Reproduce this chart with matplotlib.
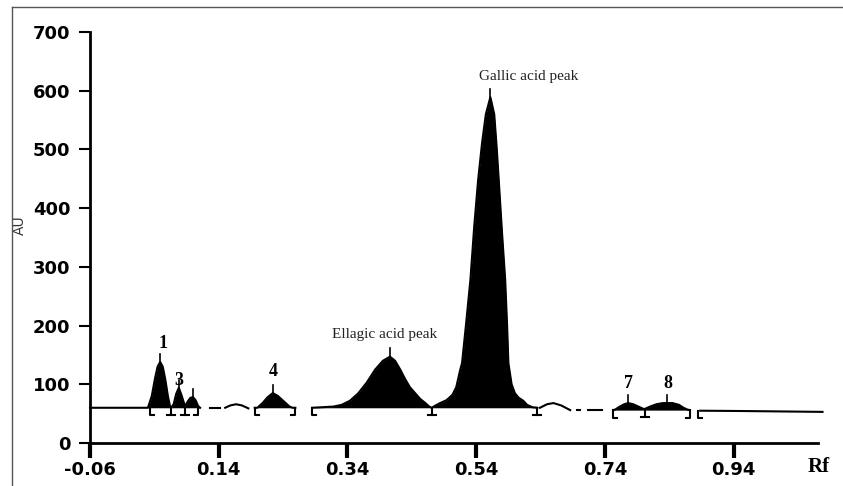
import matplotlib
matplotlib.use('Agg')
from matplotlib import pyplot as plt
from matplotlib.lines import Line2D

# densitogram profile, split in the segments the scanner printed (Rf, AU)
seg1_rf = [-0.06, 0.030, 0.036, 0.041, 0.045, 0.049, 0.053, 0.057, 0.061, 0.064, 0.066,
           0.070, 0.074, 0.078, 0.082, 0.086, 0.088, 0.092, 0.096, 0.100, 0.104, 0.108, 0.111]
seg1_au = [60, 60, 80, 110, 130, 138, 130, 108, 80, 64, 60,
           66, 84, 94, 82, 68, 63, 71, 77, 78, 73, 63, 60]

dash1_rf = [0.126, 0.142]
dash1_au = [60, 60]
arc1_rf = [0.150, 0.158, 0.167, 0.176, 0.186]
arc1_au = [60, 64, 66, 64, 59]

seg4_rf = [0.196, 0.200, 0.208, 0.216, 0.224, 0.232, 0.242, 0.250, 0.255, 0.259]
seg4_au = [60, 60, 68, 78, 85, 80, 70, 62, 60, 60]

main_rf = [0.285, 0.318, 0.331, 0.344, 0.357, 0.370, 0.383, 0.395, 0.406, 0.414, 0.422,
           0.430, 0.437, 0.445, 0.453, 0.461, 0.467, 0.471, 0.477, 0.484, 0.494, 0.503,
           0.509, 0.515, 0.518, 0.524, 0.531, 0.537, 0.543, 0.549, 0.555, 0.562, 0.568,
           0.572, 0.575, 0.580, 0.585, 0.588, 0.590, 0.595, 0.600, 0.606, 0.613, 0.619,
           0.627, 0.635]
main_au = [60, 62, 65, 72, 85, 103, 125, 140, 147, 140, 125,
           108, 95, 85, 75, 68, 62, 60, 64, 68, 73, 82,
           95, 124, 136, 200, 278, 370, 448, 510, 560, 589, 560,
           500, 448, 360, 278, 200, 136, 100, 85, 77, 72, 65,
           61, 60]

arc2_rf = [0.639, 0.650, 0.660, 0.672, 0.686]
arc2_au = [60, 66, 68, 64, 56]
dots_rf = [0.697, 0.701]
dots_au = [56, 56]
dash2_rf = [0.714, 0.736]
dash2_au = [56, 56]

seg78_rf = [0.753, 0.756, 0.763, 0.770, 0.776, 0.784, 0.792, 0.800, 0.802, 0.810,
            0.820, 0.830, 0.837, 0.845, 0.855, 0.862, 0.868, 0.872]
seg78_au = [56, 57, 62, 66, 68, 66, 62, 58, 58, 62,
            66, 68, 68, 68, 65, 60, 57, 56]

tail_rf = [0.888, 0.950, 1.078]
tail_au = [55, 54.5, 53]

# integration marks below the baseline
open_rf = [0.033, 0.196, 0.285, 0.753, 0.885]
open_au = [60, 60, 60, 56, 55]
sep_rf = [0.066, 0.088, 0.471, 0.635, 0.802]
sep_au = [60, 60, 60, 60, 58]
close_rf = [0.108, 0.259, 0.872]
close_au = [60, 60, 56]

# peak apex ticks
apex_rf = [0.049, 0.078, 0.100, 0.224, 0.406, 0.562, 0.776, 0.837]
apex_au = [138, 94, 78, 85, 147, 589, 68, 68]

peak_labels = ['1', '3', '4', '7', '8']
label_rf = [0.053, 0.078, 0.224, 0.776, 0.837]
label_au = [170, 107, 121, 102, 102]

xticks = [-0.06, 0.14, 0.34, 0.54, 0.74, 0.94]
yticks = [0, 100, 200, 300, 400, 500, 600, 700]

fig = plt.figure(figsize=(8.43, 4.86), dpi=100)
ax = fig.add_axes([90 / 843, 43 / 486, 728 / 843, 411 / 486])

# solid segments with filled peaks
for rf, au in [(seg1_rf, seg1_au), (seg4_rf, seg4_au), (main_rf, main_au), (seg78_rf, seg78_au)]:
    base = min(au[0], au[-1])
    ax.fill_between(rf, au, base, color='black', linewidth=0)
    ax.plot(rf, au, color='black', linewidth=1.5, clip_on=False)

for rf, au in [(dash1_rf, dash1_au), (arc1_rf, arc1_au), (arc2_rf, arc2_au),
               (dots_rf, dots_au), (dash2_rf, dash2_au), (tail_rf, tail_au)]:
    ax.plot(rf, au, color='black', linewidth=1.5, clip_on=False)

# brackets
d = 13
w = 0.006
for x, y in zip(open_rf, open_au):
    ax.plot([x + w, x, x], [y - d, y - d, y], color='black', linewidth=1.5)
for x, y in zip(close_rf, close_au):
    ax.plot([x - w, x, x], [y - d, y - d, y], color='black', linewidth=1.5)
for x, y in zip(sep_rf, sep_au):
    ax.plot([x, x], [y, y - d], color='black', linewidth=1.5)
    ax.plot([x - w, x + w], [y - d, y - d], color='black', linewidth=1.5)

for x, y in zip(apex_rf, apex_au):
    ax.plot([x, x], [y, y + 14], color='black', linewidth=1.2)

for t, x, y in zip(peak_labels, label_rf, label_au):
    ax.text(x, y, t, ha='center', va='center', fontsize=13, fontweight='bold',
            family='Liberation Serif')

ax.text(0.398, 184, 'Ellagic acid peak', ha='center', va='center', fontsize=11,
        family='Liberation Serif', color='#222222')
ax.text(0.621, 625, 'Gallic acid peak', ha='center', va='center', fontsize=11,
        family='Liberation Serif', color='#222222')

ax.set_xlim(-0.06, 1.071)
ax.set_ylim(0, 700)
ax.set_xticks(xticks)
ax.set_xticklabels(['-0.06', '0.14', '0.34', '0.54', '0.74', '0.94'])
ax.set_yticks(yticks)
for s in ['top', 'right']:
    ax.spines[s].set_visible(False)
ax.spines['left'].set_linewidth(2)
ax.spines['bottom'].set_linewidth(2)
ax.tick_params(axis='y', direction='out', length=8, width=1.5, pad=6)
ax.tick_params(axis='x', direction='out', length=11, width=3, pad=2)
for lab in ax.get_xticklabels() + ax.get_yticklabels():
    lab.set_fontsize(13)
    lab.set_fontweight('bold')

fig.text(819 / 843, 1 - 467 / 486, 'Rf', ha='center', va='center', fontsize=15,
         fontweight='bold', family='Liberation Serif')
fig.text(20 / 843, 1 - 225 / 486, 'AU', ha='center', va='center', fontsize=10,
         rotation=90, color='#333333')

# outer frame of the scanned picture
fig.add_artist(Line2D([12 / 843, 12 / 843], [0, 1 - 7 / 486], color='#555555', linewidth=1))
fig.add_artist(Line2D([12 / 843, 1], [1 - 7 / 486, 1 - 7 / 486], color='#555555', linewidth=1))

plt.savefig('out.png', dpi=100)
